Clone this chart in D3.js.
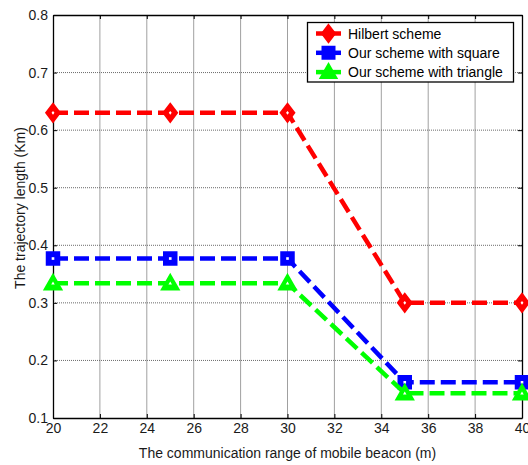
<!DOCTYPE html>
<html>
<head>
<meta charset="utf-8">
<script src="https://cdn.jsdelivr.net/npm/d3@7"></script>
<style>
  html, body { margin: 0; padding: 0; background: #fff; }
  svg { display: block; font-family: "Liberation Sans", Arial, sans-serif; }
</style>
</head>
<body>
<svg id="chart" width="528" height="465"></svg>
<script>
// Communication range of the mobile beacon (m)
const ranges = [20, 25, 30, 35, 40];
// Trajectory length (Km) for each scheme
const hilbert = [0.63, 0.63, 0.63, 0.30, 0.30];
const ourSquare = [0.377, 0.377, 0.377, 0.162, 0.162];
const ourTriangle = [0.334, 0.334, 0.334, 0.143, 0.143];

const seriesNames = ["Hilbert scheme", "Our scheme with square", "Our scheme with triangle"];
const seriesColors = ["#ff0000", "#0000ff", "#00ff00"];
const seriesMarkers = ["diamond", "square", "triangle"];

const xTicks = d3.range(20, 41, 2);
const yTicks = [0.1, 0.2, 0.3, 0.4, 0.5, 0.6, 0.7, 0.8];

const FONT = "14px";
const svg = d3.select("#chart");
const m = { left: 53, right: 522, top: 15, bottom: 418 };

const x = d3.scaleLinear().domain([20, 40]).range([m.left, m.right]);
const y = d3.scaleLinear().domain([0.1, 0.8]).range([m.bottom, m.top]);

// grid
const grid = svg.append("g");
grid.selectAll("line.vx").data(xTicks.slice(1, -1)).join("line")
  .attr("x1", d => x(d)).attr("x2", d => x(d))
  .attr("y1", m.top).attr("y2", m.bottom)
  .attr("stroke", "#a0a0a0").attr("stroke-width", 1);
grid.selectAll("line.hy").data(yTicks.slice(1, -1)).join("line")
  .attr("x1", m.left).attr("x2", m.right)
  .attr("y1", d => y(d)).attr("y2", d => y(d))
  .attr("stroke", "#6a6a6a").attr("stroke-width", 1).attr("stroke-dasharray", "1,1");

// axes (box with inward ticks on all four sides)
const xAxis = d3.axisBottom(x).tickValues(xTicks).tickSizeInner(-4).tickSizeOuter(0).tickPadding(5);
const yAxis = d3.axisLeft(y).tickValues(yTicks).tickSizeInner(-4).tickSizeOuter(0).tickPadding(5)
  .tickFormat(d3.format(".1f"));

const gx = svg.append("g").attr("transform", `translate(0,${m.bottom})`).call(xAxis);
const gy = svg.append("g").attr("transform", `translate(${m.left},0)`).call(yAxis);
const gxTop = svg.append("g").attr("transform", `translate(0,${m.top})`)
  .call(d3.axisTop(x).tickValues(xTicks).tickSizeInner(-4).tickSizeOuter(0).tickFormat(""));
const gyRight = svg.append("g").attr("transform", `translate(${m.right},0)`)
  .call(d3.axisRight(y).tickValues(yTicks).tickSizeInner(-4).tickSizeOuter(0).tickFormat(""));

[gx, gy, gxTop, gyRight].forEach(g => {
  g.select(".domain").attr("stroke", "#000").attr("stroke-width", 1.3);
  g.selectAll(".tick line").attr("stroke", "#000");
  g.selectAll(".tick text").attr("fill", "#1a1a1a").style("font-size", FONT)
    .style("font-family", "'Liberation Sans', Arial, sans-serif");
});

// axis titles
svg.append("text").attr("x", (m.left + m.right) / 2).attr("y", 458)
  .attr("text-anchor", "middle").style("font-size", FONT).attr("fill", "#1a1a1a")
  .text("The communication range of mobile beacon (m)");
svg.append("text").attr("transform", `translate(25,208) rotate(-90)`)
  .attr("text-anchor", "middle").style("font-size", FONT).attr("fill", "#1a1a1a")
  .text("The trajectory length (Km)");

// marker shapes
function markerPath(type, k) {
  k = k || 1;
  if (type === "diamond") return `M0,${-8.5 * k}L${6.5 * k},0L0,${8.5 * k}L${-6.5 * k},0Z`;
  if (type === "square") return `M${-6 * k},${-6 * k}L${6 * k},${-6 * k}L${6 * k},${6 * k}L${-6 * k},${6 * k}Z`;
  return `M0,${-8 * k}L${8 * k},${6 * k}L${-8 * k},${6 * k}Z`;
}

const allSeries = [hilbert, ourSquare, ourTriangle];
const line = d3.line().x((d, i) => x(ranges[i])).y(d => y(d));

allSeries.forEach((vals, s) => {
  const g = svg.append("g");
  g.append("path").datum(vals).attr("d", line)
    .attr("fill", "none").attr("stroke", seriesColors[s])
    .attr("stroke-width", 4.5).attr("stroke-dasharray", "15,6");
  const mk = g.selectAll("g.mk").data(vals).join("g")
    .attr("transform", (d, i) => `translate(${x(ranges[i])},${y(d)})`);
  mk.append("path").attr("d", markerPath(seriesMarkers[s]))
    .attr("fill", seriesColors[s]).attr("stroke", seriesColors[s]).attr("stroke-width", 2.5);
  mk.append("path").attr("d", markerPath(seriesMarkers[s], 0.22)).attr("fill", "#fff");
});

// legend
const lg = svg.append("g");
lg.append("rect").attr("x", 307.5).attr("y", 22.5).attr("width", 206).attr("height", 59.5)
  .attr("fill", "#fff").attr("stroke", "#000").attr("stroke-width", 1.3);
seriesNames.forEach((name, s) => {
  const cy = 33.5 + s * 19.3;
  lg.append("line").attr("x1", 316).attr("x2", 341).attr("y1", cy).attr("y2", cy)
    .attr("stroke", seriesColors[s]).attr("stroke-width", 4.5);
  lg.append("path").attr("transform", `translate(328.5,${cy})`)
    .attr("d", markerPath(seriesMarkers[s]))
    .attr("fill", seriesColors[s]).attr("stroke", seriesColors[s]).attr("stroke-width", 2);
  lg.append("text").attr("x", 348).attr("y", cy + 5)
    .style("font-size", FONT).attr("fill", "#000").text(name);
});
</script>
</body>
</html>
